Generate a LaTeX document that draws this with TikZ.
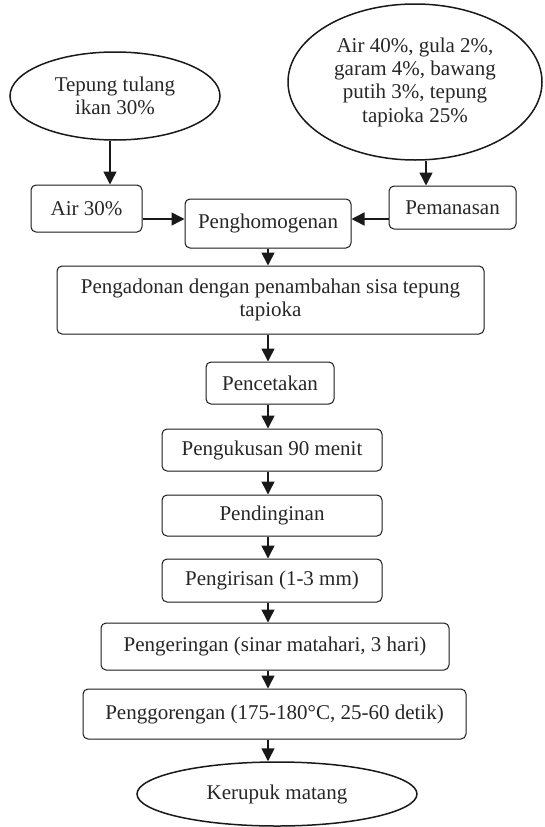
\documentclass[tikz,border=0pt]{standalone}
\usepackage{fontspec}
\setmainfont{Liberation Serif}
\usetikzlibrary{shapes.geometric,arrows.meta}
\begin{document}
\begin{tikzpicture}[x=1pt,y=-1pt,
  every node/.style={font=\fontsize{21}{23.3}\selectfont, text=black!85},
  procbox/.style={draw=black!90, line width=1pt, rounded corners=5pt, align=center, inner sep=0pt},
  oval/.style={draw=black!90, line width=1.5pt, ellipse, align=center, inner sep=0pt},
  arr/.style={draw=black!90, line width=1.5pt, -{Triangle[width=13pt,length=13pt]}}]
\useasboundingbox (0,0) rectangle (544,827);
\node[oval, minimum width=210pt, minimum height=88pt] (e1) at (115,96) {Tepung tulang\\ikan 30\%};
\node[oval, minimum width=254pt, minimum height=156pt] (e2) at (415,82) {Air 40\%, gula 2\%,\\garam 4\%, bawang\\putih 3\%, tepung\\tapioka 25\%};
\node[procbox, minimum width=111pt, minimum height=47pt] (air) at (86.5,208.5) {Air 30\%};
\node[procbox, minimum width=166pt, minimum height=49pt] (hom) at (268,223.5) {Penghomogenan};
\node[procbox, minimum width=127pt, minimum height=43pt] (pem) at (452.5,207.5) {Pemanasan};
\node[procbox, minimum width=427pt, minimum height=68pt] (adon) at (270.5,300) {Pengadonan dengan penambahan sisa tepung\\tapioka};
\node[procbox, minimum width=128pt, minimum height=42pt] (cetak) at (270,383) {Pencetakan};
\node[procbox, minimum width=220pt, minimum height=42pt] (kukus) at (272,450) {Pengukusan 90 menit};
\node[procbox, minimum width=220pt, minimum height=41pt] (dingin) at (272,515.5) {Pendinginan};
\node[procbox, minimum width=220pt, minimum height=43pt] (iris) at (272,580.5) {Pengirisan (1-3 mm)};
\node[procbox, minimum width=348pt, minimum height=47pt] (kering) at (275,646.5) {Pengeringan (sinar matahari, 3 hari)};
\node[procbox, minimum width=383pt, minimum height=50pt] (goreng) at (274.5,714) {Penggorengan (175-180°C, 25-60 detik)};
\node[oval, minimum width=280pt, minimum height=64pt] (kerupuk) at (277,794) {Kerupuk matang};
\coordinate (col) at (268,0);
\coordinate (c1) at (110,0);
\coordinate (c2) at (426,0);
\coordinate (r1) at (0,219);
\draw[arr] (c1 |- e1.south) -- (c1 |- air.north);
\draw[arr] (c2 |- e2.south) -- (c2 |- pem.north);
\draw[arr] (air.east |- r1) -- (hom.west |- r1);
\draw[arr] (pem.west |- r1) -- (hom.east |- r1);
\draw[arr] (col |- hom.south) -- (col |- adon.north);
\draw[arr] (col |- adon.south) -- (col |- cetak.north);
\draw[arr] (col |- cetak.south) -- (col |- kukus.north);
\draw[arr] (col |- kukus.south) -- (col |- dingin.north);
\draw[arr] (col |- dingin.south) -- (col |- iris.north);
\draw[arr] (col |- iris.south) -- (col |- kering.north);
\draw[arr] (col |- kering.south) -- (col |- goreng.north);
\draw[arr] (col |- goreng.south) -- (col |- kerupuk.north);
\end{tikzpicture}
\end{document}
